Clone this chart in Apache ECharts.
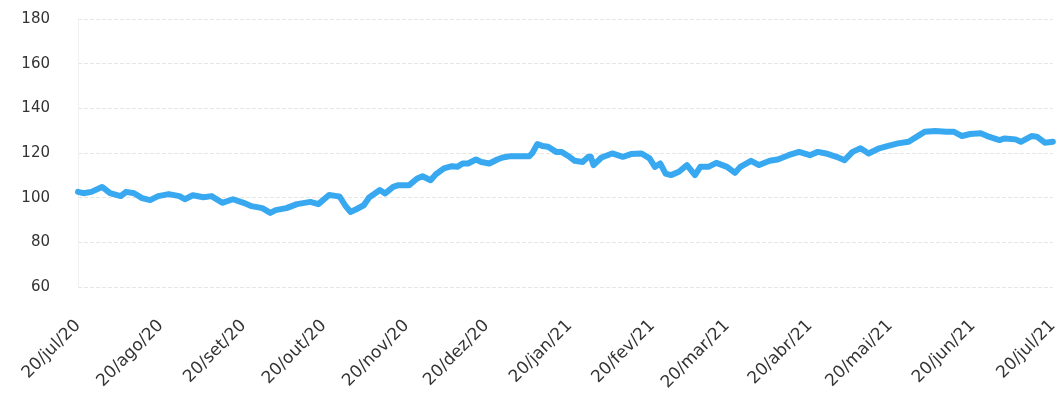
<!DOCTYPE html>
<html>
<head>
<meta charset="utf-8">
<script src="https://cdn.jsdelivr.net/npm/echarts@6/dist/echarts.min.js"></script>
<style>
  html, body { margin: 0; padding: 0; background: #fff; }
  #chart { width: 1061px; height: 395px; }
</style>
</head>
<body>
<div id="chart"></div>
<script>
// days since 20/jul/20 and index value
const days = [0, 2, 5, 9, 12, 16, 18, 21, 24, 27, 30, 34, 38, 40, 43, 47, 50, 54, 58, 62,
  65, 69, 72, 74, 78, 82, 87, 90, 94, 97, 98, 100, 102, 104, 107, 109, 113, 115, 118, 120,
  124, 127, 129, 132, 134, 137, 140, 142, 144, 146, 149, 151, 154, 157, 159, 162, 165, 169, 170, 172,
  174, 176, 179, 181, 184, 186, 189, 191, 192, 193, 196, 200, 204, 207, 211, 214, 216, 218, 220, 222,
  225, 228, 231, 233, 236, 239, 243, 246, 248, 252, 255, 259, 262, 266, 270, 274, 277, 280, 284, 287,
  290, 293, 296, 300, 303, 307, 311, 315, 317, 321, 325, 328, 331, 334, 338, 341, 345, 347, 351, 353,
  357, 359, 362, 365]
const values = [102.6, 102.0, 102.6, 104.8, 102.0, 100.7, 102.6, 102.0, 99.8, 98.9, 100.7, 101.6, 100.7, 99.3, 101.1, 100.2, 100.7, 97.7, 99.3, 97.7,
  96.2, 95.3, 93.2, 94.4, 95.3, 97.1, 98.1, 97.1, 101.2, 100.7, 100.4, 96.6, 93.6, 94.7, 96.6, 100.1, 103.4, 101.9, 104.8, 105.6,
  105.6, 108.6, 109.6, 107.8, 110.5, 113.1, 114.1, 113.8, 115.3, 115.3, 117.1, 116.0, 115.3, 117.1, 118.0, 118.6, 118.6, 118.6, 119.8, 124.0,
  123.1, 122.8, 120.5, 120.5, 118.3, 116.5, 116.0, 118.3, 118.3, 114.6, 118.0, 119.8, 118.3, 119.5, 119.8, 117.6, 113.8, 115.3, 110.8, 110.1,
  111.6, 114.6, 110.1, 113.8, 113.8, 115.6, 113.8, 111.1, 113.8, 116.5, 114.6, 116.5, 117.1, 119.0, 120.5, 119.0, 120.5, 119.8, 118.3, 116.8,
  120.5, 122.1, 119.8, 122.1, 123.1, 124.3, 125.0, 128.0, 129.5, 129.9, 129.5, 129.5, 127.6, 128.5, 128.8, 127.3, 125.8, 126.5, 126.1, 125.0,
  127.6, 127.3, 124.6, 125.0]

const tickDays = [0, 31, 62, 92, 123, 153, 184, 215, 243, 274, 304, 335, 365]
const tickLabels = ['20/jul/20', '20/ago/20', '20/set/20', '20/out/20', '20/nov/20', '20/dez/20',
  '20/jan/21', '20/fev/21', '20/mar/21', '20/abr/21', '20/mai/21', '20/jun/21', '20/jul/21']
const yTicks = [60, 80, 100, 120, 140, 160, 180]

const chart = echarts.init(document.getElementById('chart'))

chart.setOption({
  animation: false,
  backgroundColor: '#fff',
  grid: { left: 78, right: 6, top: 19, bottom: 108 },
  xAxis: {
    type: 'value',
    min: 0,
    max: 365,
    axisLine: { show: false },
    axisTick: { show: false },
    splitLine: { show: false },
    axisLabel: {
      customValues: tickDays,
      formatter: v => tickLabels[tickDays.indexOf(v)],
      rotate: 45,
      margin: 36,
      color: '#333',
      fontSize: 17,
      fontFamily: 'DejaVu Sans'
    }
  },
  yAxis: {
    type: 'value',
    min: yTicks[0],
    max: yTicks[yTicks.length - 1],
    interval: 20,
    axisLine: { show: true, lineStyle: { color: '#f0f0f0' } },
    axisTick: { show: false },
    axisLabel: {
      margin: 28,
      color: '#333',
      fontSize: 15,
      fontFamily: 'DejaVu Sans'
    },
    splitLine: { lineStyle: { color: '#e6e6e6', type: 'dashed' } }
  },
  series: [{
    type: 'line',
    data: days.map((d, i) => [d, values[i]]),
    symbol: 'none',
    lineStyle: { color: '#38a9f0', width: 6, join: 'round', cap: 'round' }
  }]
})
</script>
</body>
</html>
